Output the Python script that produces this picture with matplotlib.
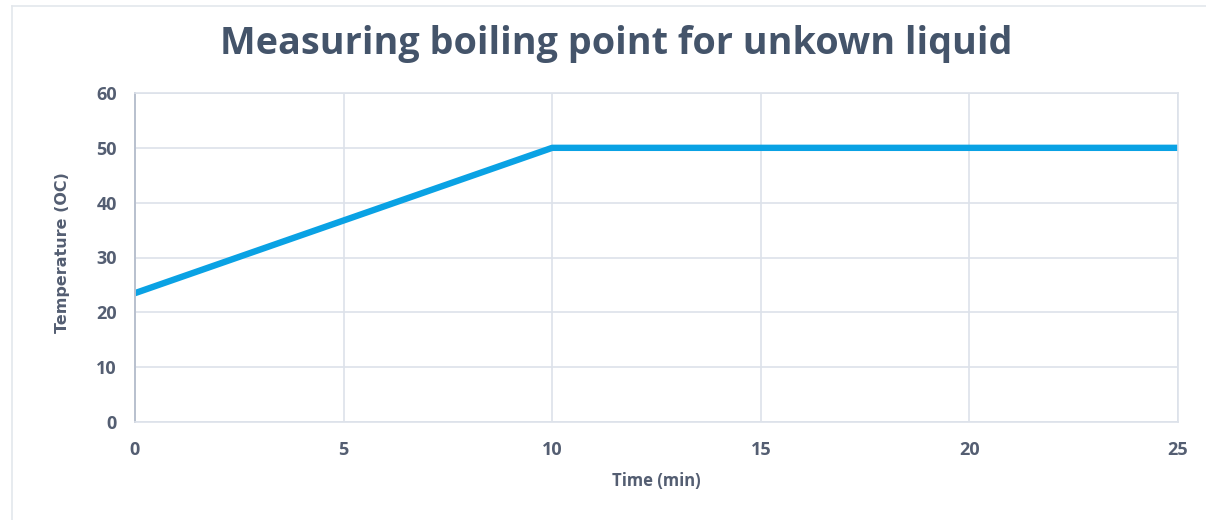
import matplotlib.pyplot as plt
from matplotlib.lines import Line2D

# data
time_min = [0, 10, 25]
temperature = [23.5, 50, 50]
x_ticks = [0, 5, 10, 15, 20, 25]
y_ticks = [0, 10, 20, 30, 40, 50, 60]

title_col = '#44546A'
tick_col = '#545E72'
grid_col = '#DDE2EA'
line_col = '#0AA2E4'

fig = plt.figure(figsize=(12.06, 5.2), dpi=100)
ax = fig.add_axes([135 / 1206, 98 / 520, (1178 - 135) / 1206, (422 - 93) / 520])

ax.plot(time_min, temperature, color=line_col, lw=4.6, solid_capstyle='butt')

ax.set_xlim(0, 25)
ax.set_ylim(0, 60)
ax.set_xticks(x_ticks)
ax.set_yticks(y_ticks)
ax.grid(True, color=grid_col, lw=1.2)
ax.set_axisbelow(True)
for side in ['top', 'right', 'bottom']:
    ax.spines[side].set_color(grid_col)
    ax.spines[side].set_linewidth(1.2)
ax.spines['left'].set_color('#B8C0CE')
ax.spines['left'].set_linewidth(1.4)
ax.tick_params(length=0, colors=tick_col)
for lab in ax.get_xticklabels() + ax.get_yticklabels():
    lab.set_fontfamily('Open Sans')
    lab.set_fontweight('bold')
    lab.set_fontsize(13)
ax.tick_params(axis='x', pad=14)
ax.tick_params(axis='y', pad=13)

ax.set_xlabel('Time (min)', fontsize=12, fontweight='bold', color=tick_col,
              family='Open Sans', labelpad=9)
ax.set_ylabel('Temperature (OC)', fontsize=11.5, fontweight='bold', color=tick_col,
              family=['Liberation Sans Narrow', 'DejaVu Sans'], labelpad=16)
ax.yaxis.set_label_coords(-65 / 1043, 0.515)

fig.text(616 / 1206, 1 - 44 / 520, 'Measuring boiling point for unkown liquid',
         ha='center', va='center', fontsize=27.2, fontweight='bold',
         color=title_col, family='Open Sans')

# faint chart frame at left and top
fig.add_artist(Line2D([12 / 1206, 12 / 1206], [0, 1 - 6 / 520], color='#E3E7EC', lw=1.2))
fig.add_artist(Line2D([12 / 1206, 1], [1 - 6 / 520, 1 - 6 / 520], color='#E3E7EC', lw=1.2))

fig.savefig('out.png', dpi=100, facecolor='white')
